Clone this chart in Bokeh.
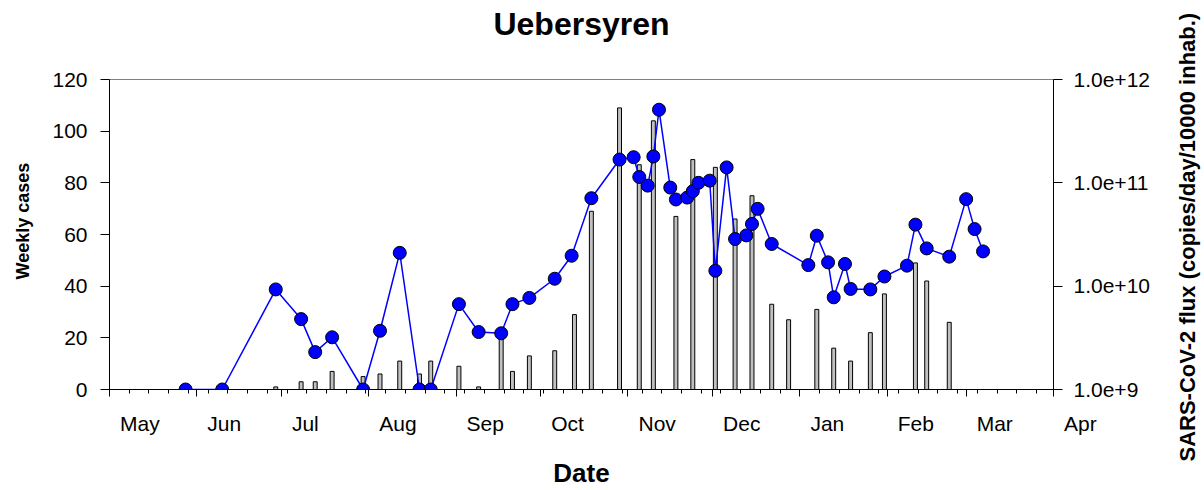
import math
import pandas as pd
from bokeh.plotting import figure
from bokeh.layouts import row
from bokeh.models import (Range1d, LinearAxis, LogAxis, LogScale, FixedTicker,
                          PrintfTickFormatter)
from bokeh.core.properties import value
from bokeh.embed import file_html
from bokeh.resources import INLINE

FONT = "Liberation Sans"

# ---------------- data ----------------
flux_dates = ["2020-05-28", "2020-06-10", "2020-06-29", "2020-07-08", "2020-07-13",
              "2020-07-19", "2020-07-30", "2020-08-05", "2020-08-12", "2020-08-19",
              "2020-08-23", "2020-09-02", "2020-09-09", "2020-09-17", "2020-09-21",
              "2020-09-27", "2020-10-06", "2020-10-12", "2020-10-19", "2020-10-29",
              "2020-11-03", "2020-11-05", "2020-11-08", "2020-11-10", "2020-11-12",
              "2020-11-16", "2020-11-18", "2020-11-22", "2020-11-24", "2020-11-26",
              "2020-11-30", "2020-12-02", "2020-12-06", "2020-12-09", "2020-12-13",
              "2020-12-15", "2020-12-17", "2020-12-22", "2021-01-04", "2021-01-07",
              "2021-01-11", "2021-01-13", "2021-01-17", "2021-01-19", "2021-01-26",
              "2021-01-31", "2021-02-08", "2021-02-11", "2021-02-15", "2021-02-23",
              "2021-03-01", "2021-03-04", "2021-03-07"]
flux_values = [1.0e9, 1.0e9, 9.3e9, 4.8e9, 2.3e9,
               3.2e9, 1.0e9, 3.7e9, 2.1e10, 1.0e9,
               1.0e9, 6.7e9, 3.6e9, 3.5e9, 6.7e9,
               7.7e9, 1.18e10, 1.97e10, 7.1e10, 1.68e11,
               1.77e11, 1.14e11, 9.4e10, 1.80e11, 5.1e11,
               9.0e10, 6.9e10, 7.2e10, 8.3e10, 1.0e11,
               1.05e11, 1.41e10, 1.41e11, 2.86e10, 3.1e10,
               4.0e10, 5.6e10, 2.56e10, 1.6e10, 3.08e10,
               1.7e10, 7.8e9, 1.64e10, 9.4e9, 9.3e9,
               1.24e10, 1.58e10, 3.94e10, 2.32e10, 1.93e10,
               6.95e10, 3.57e10, 2.17e10]

case_dates = ["2020-06-29", "2020-07-08", "2020-07-13", "2020-07-19", "2020-07-30",
              "2020-08-05", "2020-08-12", "2020-08-19", "2020-08-23", "2020-09-02",
              "2020-09-09", "2020-09-17", "2020-09-21", "2020-09-27", "2020-10-06",
              "2020-10-13", "2020-10-19", "2020-10-29", "2020-11-05", "2020-11-10",
              "2020-11-18", "2020-11-24", "2020-12-02", "2020-12-09", "2020-12-15",
              "2020-12-22", "2020-12-28", "2021-01-07", "2021-01-13", "2021-01-19",
              "2021-01-26", "2021-01-31", "2021-02-11", "2021-02-15", "2021-02-23"]
weekly_cases = [1, 3, 3, 7, 5,
                6, 11, 6, 11, 9,
                1, 21, 7, 13, 15,
                29, 69, 109, 87, 104,
                67, 89, 86, 66, 75,
                33, 27, 31, 16, 11,
                22, 37, 49, 42, 26]

month_starts = ["2020-05-01", "2020-06-01", "2020-07-01", "2020-08-01", "2020-09-01",
                "2020-10-01", "2020-11-01", "2020-12-01", "2021-01-01", "2021-02-01",
                "2021-03-01", "2021-04-01"]
month_labels = ["May", "Jun", "Jul", "Aug", "Sep", "Oct", "Nov", "Dec", "Jan", "Feb",
                "Mar", "Apr"]
case_ticks = [0, 20, 40, 60, 80, 100, 120]
flux_ticks = [1e9, 1e10, 1e11, 1e12]

title_text = "Uebersyren"
x_title = "Date"
y_title = "Weekly cases"
y2_title = "SARS-CoV-2 flux (copies/day/10000 inhab.)"


def ms(d):
    return pd.Timestamp(d).value / 1e6


DAY = 86400000.0
x_start, x_end = ms(month_starts[0]), ms(month_starts[-1])
week_ticks = [x_start + 7 * DAY * k for k in range(1, 48)]

H = 490
LEFT_W, RIGHT_W = 40, 34
MAIN_W = 1204 - LEFT_W - RIGHT_W

p = figure(width=MAIN_W, height=H, output_backend="svg", toolbar_location=None,
           x_range=Range1d(x_start, x_end), y_range=Range1d(0, 120),
           extra_y_ranges={"flux": Range1d(1e9, 1e12)},
           extra_y_scales={"flux": LogScale()},
           min_border_left=69, min_border_right=117, min_border_top=79,
           min_border_bottom=97)
p.background_fill_color = "white"
p.border_fill_color = "white"
p.outline_line_color = "#808080"
p.outline_line_width = 1
p.xgrid.visible = False
p.ygrid.visible = False
p.title.visible = False

xa = p.below[0]   # default bottom axis
ya = p.left[0]    # default left axis

# bars (weekly cases)
p.vbar(x=[ms(d) for d in case_dates], top=weekly_cases, bottom=0, width=1.4 * DAY,
       fill_color="#c0c0c0", line_color="black", line_width=1)

# flux line + points
fx = [ms(d) for d in flux_dates]
p.line(fx, flux_values, y_range_name="flux", line_color="#0000ff", line_width=1.5)
p.scatter(fx, flux_values, y_range_name="flux", size=13, fill_color="#0000ff",
          line_color="black", line_width=1)

# title as label of an empty top axis
ta = LinearAxis(ticker=FixedTicker(ticks=[], minor_ticks=[]), axis_line_color=None,
                major_tick_line_color=None, minor_tick_line_color=None,
                major_tick_out=0, minor_tick_out=0, major_tick_in=0, minor_tick_in=0)
ta.axis_label = title_text
ta.axis_label_text_font = FONT
ta.axis_label_text_font_size = "32px"
ta.axis_label_text_font_style = "bold"
ta.axis_label_text_color = "black"
ta.axis_label_standoff = 38
p.add_layout(ta, "above")

# x axis: month-start major ticks, weekly minor ticks, month names just right of each tick
xa.ticker = FixedTicker(ticks=[ms(d) for d in month_starts], minor_ticks=week_ticks)
xa.major_label_overrides = {ms(d): "\u2002" + m for d, m in zip(month_starts, month_labels)}
xa.major_label_orientation = -1e-6
xa.axis_line_color = "black"
xa.major_tick_line_color = "black"
xa.minor_tick_line_color = "black"
xa.major_tick_out = 7
xa.major_tick_in = 0
xa.minor_tick_out = 4
xa.minor_tick_in = 0
xa.major_label_text_font = FONT
xa.major_label_text_font_size = "21px"
xa.major_label_text_color = "black"
xa.major_label_standoff = 27
xa.axis_label = x_title
xa.axis_label_text_font = FONT
xa.axis_label_text_font_size = "26px"
xa.axis_label_text_font_style = "bold"
xa.axis_label_text_color = "black"
xa.axis_label_standoff = 8

# left axis
ya.ticker = FixedTicker(ticks=case_ticks)
ya.axis_line_color = "black"
ya.major_tick_out = 9
ya.major_tick_in = 0
ya.minor_tick_line_color = None
ya.major_label_text_font = FONT
ya.major_label_text_font_size = "21px"
ya.major_label_text_color = "black"
ya.major_label_standoff = 13

# right axis (log)
ra = LogAxis(y_range_name="flux", ticker=FixedTicker(ticks=flux_ticks),
             formatter=PrintfTickFormatter(format="%.1e"))
ra.axis_line_color = "black"
ra.major_tick_out = 9
ra.major_tick_in = 0
ra.minor_tick_line_color = None
ra.major_label_text_font = FONT
ra.major_label_text_font_size = "21px"
ra.major_label_text_color = "black"
ra.major_label_standoff = 11
p.add_layout(ra, "right")

# left strip: y-axis title (reads bottom-to-top)
lp = figure(width=LEFT_W, height=H, output_backend="svg", toolbar_location=None,
            x_range=Range1d(0, LEFT_W), y_range=Range1d(0, H), min_border=0,
            x_axis_location=None, y_axis_location=None)
lp.outline_line_color = None
lp.grid.visible = False
lp.title.visible = False
lp.text(x=[LEFT_W / 2], y=[H / 2], text=[y_title], angle=math.pi / 2,
        x_offset=2, y_offset=-13.5, text_align="center", text_baseline="middle",
        text_font=value(FONT), text_font_size=value("18px"), text_font_style="bold",
        text_color="black")

# right strip: second y-axis title as a left-side title (reads bottom-to-top)
rp = figure(width=RIGHT_W, height=H, output_backend="svg", toolbar_location=None,
            x_range=Range1d(0, 1), y_range=Range1d(0, 1), min_border=0,
            min_border_left=32, x_axis_location=None, y_axis_location=None,
            title=y2_title, title_location="left")
rp.outline_line_color = None
rp.grid.visible = False
rp.title.align = "left"
rp.title.offset = -72
rp.title.vertical_align = "bottom"
rp.title.standoff = 5
rp.title.text_font = FONT
rp.title.text_font_size = "22px"
rp.title.text_font_style = "bold"
rp.title.text_color = "black"

layout = row(lp, p, rp, spacing=0)
open("out.html", "w").write(file_html(layout, INLINE))
